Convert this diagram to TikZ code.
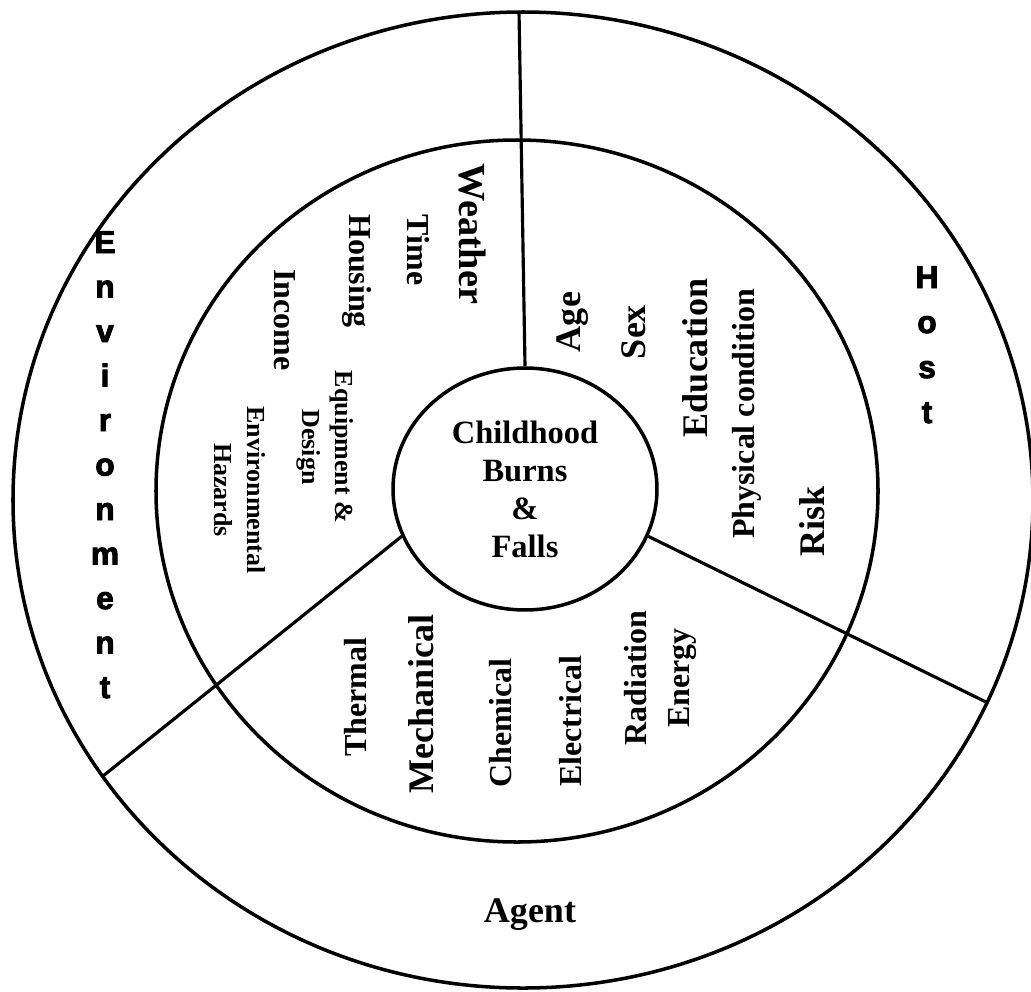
\documentclass[tikz,border=0pt]{standalone}
\usepackage{fontspec}
\setmainfont{Liberation Serif}
\newfontfamily\heavyfont{Liberation Sans}[BoldFeatures={FakeBold=3}]
\usetikzlibrary{shapes.geometric}
\tikzset{ring/.style={line width=2pt},divider/.style={line width=1.8pt},
 core/.style={draw,ellipse,line width=2pt,minimum width=5.28cm,minimum height=4.84cm,
  inner sep=0pt,align=center,font=\fontsize{18.5}{21.6}\selectfont\bfseries},
 big/.style={font=\fontsize{20.5}{24}\selectfont\bfseries},
 mid/.style={font=\fontsize{18.2}{24.4}\selectfont\bfseries,align=center},
 small/.style={font=\fontsize{14.8}{18.8}\selectfont\bfseries,align=center},
 down/.style={rotate=-90},up/.style={rotate=90},
 letter/.style={anchor=base,inner sep=0pt,font=\heavyfont\bfseries\fontsize{18}{20}\selectfont}}
\begin{document}
\begin{tikzpicture}[x=0.02cm,y=-0.02cm]
\useasboundingbox (0,0) rectangle (1031,991);
\draw[ring] (523,500) ellipse [x radius=510,y radius=488];
\draw[ring] (517,491) ellipse [x radius=361,y radius=351];
\node[core] (core) at (525,489) {Childhood\\Burns\\\&\\Falls};
\coordinate (topend) at (519,11);
\coordinate (rightend) at (986,702);
\coordinate (leftend) at (103,776);
\draw[divider] (core.north) -- (topend);
\draw[divider] (core.-21) -- (rightend);
\draw[divider] (core.201) -- (leftend);
\foreach \ch [count=\i] in {E,n,v,i,r,o,n,m,e,n,t}
  \node[letter] (env\i) at (105,253+44.5*\i-44.5) {\ch};
\foreach \ch [count=\i] in {H,o,s,t}
  \node[letter] (host\i) at (927,288+45*\i-45) {\ch};
\node[big] (agent) at (530,915) {Agent};
\node[big,down,font=\fontsize{21.8}{24}\selectfont\bfseries] (weather) at (472,234) {Weather};
\node[mid,down] (time) at (418,250) {Time};
\node[mid,down] (housing) at (357,271) {Housing};
\node[mid,down] (income) at (285,320) {Income};
\node[small,down] (equip) at (325,447) {Equipment \&\\Design};
\node[small,down] (hazards) at (240,490) {Environmental\\Hazards};
\node[big,up] (age) at (573,322) {Age};
\node[big,up] (sex) at (634,332) {Sex};
\node[big,up] (education) at (695,358) {Education};
\node[mid,up] (physical) at (747,414) {Physical condition};
\node[big,up] (risk) at (812,521) {Risk};
\node[mid,up] (thermal) at (356,697) {Thermal};
\node[big,up] (mechanical) at (421,704) {Mechanical};
\node[mid,up] (chemical) at (501,723) {Chemical};
\node[mid,up] (electrical) at (571,721) {Electrical};
\node[mid,up] (radiation) at (660,678) {Radiation\\Energy};
\end{tikzpicture}
\end{document}
